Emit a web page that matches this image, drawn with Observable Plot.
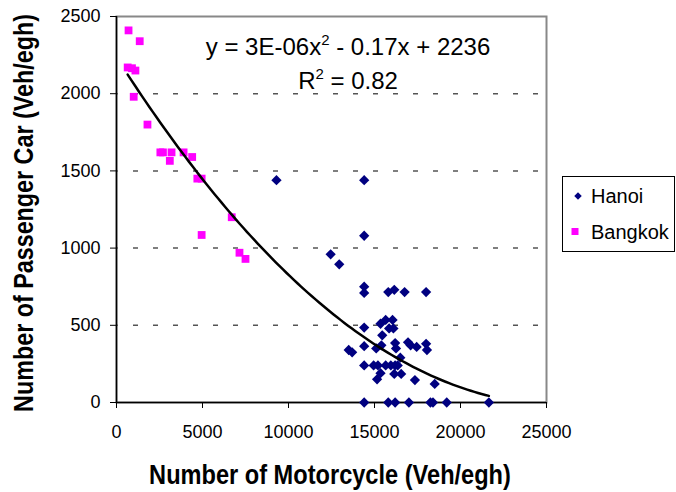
<!DOCTYPE html>
<html>
<head>
<meta charset="utf-8">
<script src="https://cdn.jsdelivr.net/npm/d3@7"></script>
<script src="https://cdn.jsdelivr.net/npm/@observablehq/plot@0.6"></script>
<style>
  html, body { margin: 0; padding: 0; background: #fff; }
  #chart { width: 676px; height: 492px; }
</style>
</head>
<body>
<div id="chart"></div>
<script>
// Motorcycle vs passenger car flows (veh/equivalent green hour)
const hanoiX = [9300, 14400, 14400, 12450, 12950,
  14400, 14400, 15800, 16150, 16750, 18000,
  14400, 15350, 15650, 16050, 15850, 16100, 15450,
  13500, 13700, 14400, 15100, 15400, 16200, 16250, 16950, 17100, 17450, 18000, 18050,
  16500,
  14400, 14950, 15200, 15650, 15950, 16200, 16350,
  15150, 15350, 16150, 16550, 17350, 18500,
  14400, 15800, 16200, 17000, 18250, 18400, 19200, 21650];
const hanoiY = [1440, 1440, 1080, 960, 895,
  750, 710, 715, 730, 715, 715,
  485, 510, 535, 535, 480, 480, 435,
  340, 325, 365, 350, 370, 385, 350, 390, 370, 360, 380, 340,
  290,
  240, 240, 240, 240, 240, 240, 240,
  150, 190, 185, 185, 145, 120,
  0, 0, 0, 0, 0, 0, 0, 0];

const bangkokX = [700, 1350, 650, 900, 1100, 1000, 1800, 2550, 2700, 3100, 3200,
  3900, 4400, 4700, 4950, 4950, 6700, 7150, 7500];
const bangkokY = [2410, 2340, 2170, 2165, 2150, 1980, 1800, 1620, 1620, 1565, 1620,
  1620, 1590, 1450, 1450, 1085, 1200, 970, 930];

const xTicks = [0, 5000, 10000, 15000, 20000, 25000];
const yTicks = [0, 500, 1000, 1500, 2000, 2500];
const seriesNames = ["Hanoi", "Bangkok"];
const seriesColors = ["#000080", "#FF00FF"];

// Polynomial trendline y = a·x² + b·x + c (unrounded coefficients of the label below)
const trendA = 3.4e-6;
const trendB = -0.1749;
const trendC = 2236;
const equationText = ["y = 3E-06x", "2", " - 0.17x + 2236"];
const r2Text = ["R", "2", " = 0.82"];

const hanoi = hanoiX.map((x, i) => ({x, y: hanoiY[i]}));
const bangkok = bangkokX.map((x, i) => ({x, y: bangkokY[i]}));
const all = hanoi.concat(bangkok);

const xMin = d3.min(all, d => d.x), xMax = d3.max(all, d => d.x);
const curve = d3.range(0, 101).map(i => {
  const x = xMin + (xMax - xMin) * i / 100;
  return {x, y: trendC + trendB * x + trendA * x * x};
});

const font = "'Liberation Sans', Arial, sans-serif";
const narrowBold = "'Liberation Sans Narrow', 'Arial Narrow', 'Liberation Sans', Arial, sans-serif";

const chart = Plot.plot({
  width: 676,
  height: 492,
  marginLeft: 116,
  marginRight: 130,
  marginTop: 16,
  marginBottom: 90,
  style: {fontFamily: font, fontSize: "18px", color: "#000", background: "#fff", overflow: "visible"},
  x: {domain: [0, 25000]},
  y: {domain: [0, 2500]},
  marks: [
    Plot.ruleY(yTicks.filter(v => v > 0 && v < 2500), {stroke: "#555", strokeWidth: 1.5, strokeDasharray: "5,15", strokeDashoffset: 3}),
    Plot.frame({stroke: "#888", strokeWidth: 2}),
    Plot.ruleX([0], {stroke: "#000", strokeWidth: 1.5}),
    Plot.ruleY([0], {stroke: "#000", strokeWidth: 1.5}),
    Plot.axisY({ticks: yTicks, tickSize: 6, tickPadding: 10, tickFormat: d => String(d), label: null, stroke: "#000"}),
    Plot.axisX({ticks: xTicks, tickSize: 6, tickPadding: 17, tickFormat: d => String(d), label: null, stroke: "#000"}),
    Plot.dot(hanoi, {x: "x", y: "y", symbol: "square", r: 4.1, rotate: 45, fill: seriesColors[0], stroke: "none"}),
    Plot.dot(bangkok, {x: "x", y: "y", symbol: "square", r: 4.4, fill: seriesColors[1], stroke: "none"}),
    Plot.line(curve, {x: "x", y: "y", stroke: "#000", strokeWidth: 2.5})
  ]
});

document.getElementById("chart").appendChild(chart);

const svg = d3.select(chart);

// Trendline equation and R-squared
function addSup(sel, parts, x, y) {
  const t = sel.append("text").attr("x", x).attr("y", y)
    .attr("text-anchor", "middle").attr("font-family", font).attr("font-size", 24).attr("fill", "#000");
  t.append("tspan").text(parts[0]);
  t.append("tspan").attr("font-size", 15).attr("dy", -10).text(parts[1]);
  t.append("tspan").attr("dy", 10).text(parts[2]);
}
addSup(svg, equationText, 348, 55);
addSup(svg, r2Text, 348, 89);

// Axis titles in a condensed bold face, squeezed to a fixed length
function condensedTitle(label, cx, cy, angle, length) {
  const g = svg.append("g").attr("transform", `translate(${cx},${cy}) rotate(${angle})`);
  const t = g.append("text")
    .attr("text-anchor", "middle")
    .attr("font-family", narrowBold).attr("font-weight", "bold").attr("font-size", 27)
    .text(label);
  const natural = t.node().getComputedTextLength();
  if (natural > 0) t.attr("transform", `scale(${length / natural},1)`);
}
condensedTitle("Number of Motorcycle (Veh/egh)", 330, 484, 0, 362);
condensedTitle("Number of Passenger Car (Veh/egh)", 33, 213, -90, 398);

// Legend
const lg = svg.append("g").attr("text-anchor", "start");
lg.append("rect").attr("x", 562.5).attr("y", 176.5).attr("width", 112).attr("height", 75)
  .attr("fill", "#fff").attr("stroke", "#000").attr("stroke-width", 1);
lg.append("path").attr("d", d3.symbol(d3.symbolSquare, 28)()).attr("transform", "translate(578,196) rotate(45)").attr("fill", seriesColors[0]);
lg.append("rect").attr("x", 571.5).attr("y", 228).attr("width", 7).attr("height", 7).attr("fill", seriesColors[1]);
lg.append("text").attr("x", 591).attr("y", 203).attr("text-anchor", "start").attr("font-family", font).attr("font-size", 20).text(seriesNames[0]);
lg.append("text").attr("x", 591).attr("y", 239).attr("text-anchor", "start").attr("font-family", font).attr("font-size", 20).text(seriesNames[1]);
</script>
</body>
</html>
